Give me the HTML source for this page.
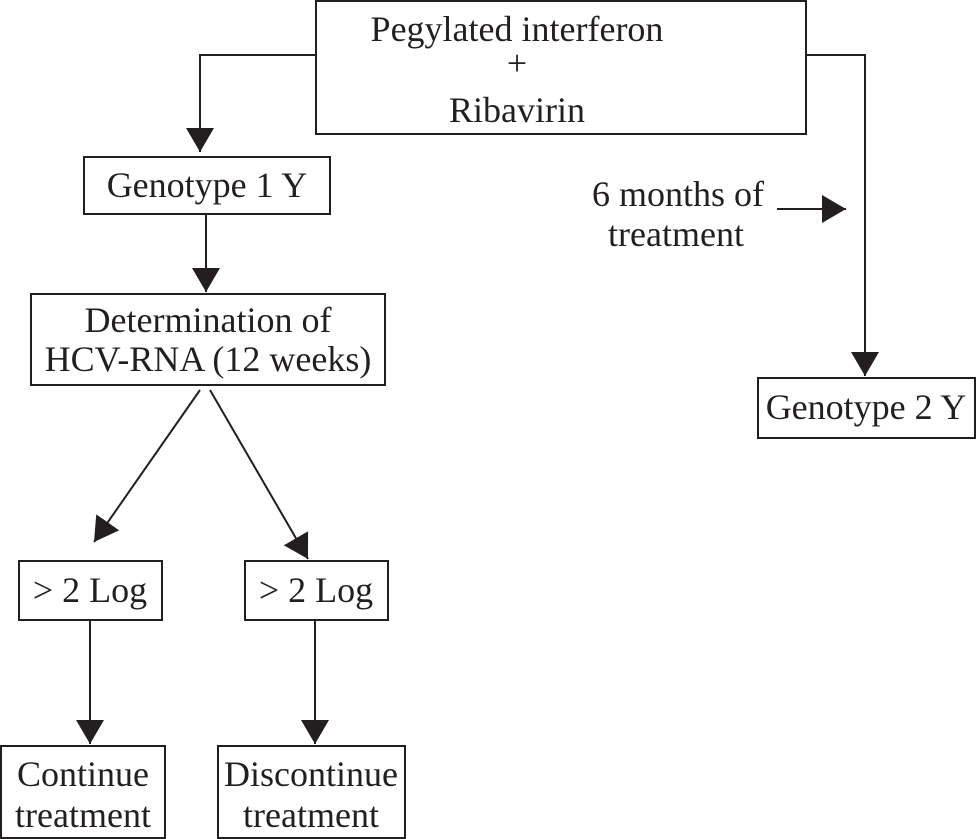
<!DOCTYPE html>
<html><head><meta charset="utf-8"><style>
html,body{margin:0;padding:0;background:#fff;}
svg{display:block;}
text{font-family:"Liberation Serif",serif;font-size:36px;fill:#231f20;}
</style></head><body>
<svg width="978" height="839" viewBox="0 0 978 839" xmlns="http://www.w3.org/2000/svg">
<defs>
<marker id="b" viewBox="0 0 24 28" markerWidth="24" markerHeight="28" refX="24" refY="14" orient="auto" markerUnits="userSpaceOnUse"><path d="M0,0 L24,14 L0,28 Z" fill="#231f20"/></marker></defs>
<g fill="none" stroke="#231f20" stroke-width="2">
<rect x="316" y="1" width="490" height="133"/>
<rect x="84" y="157" width="246" height="57"/>
<rect x="31" y="294" width="354" height="91"/>
<rect x="19" y="561" width="143" height="59"/>
<rect x="245" y="561" width="143" height="59"/>
<rect x="1" y="746" width="164" height="92"/>
<rect x="218" y="746" width="187" height="92"/>
<rect x="758" y="378" width="217" height="60"/>
<polyline points="316,55 200,55 200,152" marker-end="url(#b)"/>
<line x1="206" y1="214" x2="206" y2="292" marker-end="url(#b)"/>
<line x1="200" y1="390" x2="94" y2="542" marker-end="url(#b)"/>
<line x1="210" y1="390" x2="308" y2="559" marker-end="url(#b)"/>
<line x1="90" y1="620" x2="90" y2="744" marker-end="url(#b)"/>
<line x1="315" y1="620" x2="315" y2="744" marker-end="url(#b)"/>
<polyline points="806,55 865,55 865,376" marker-end="url(#b)"/>
<line x1="777" y1="209" x2="846" y2="209" marker-end="url(#b)"/>
</g>
<g text-anchor="middle">
<text x="517" y="41">Pegylated interferon</text>
<text x="517" y="75">+</text>
<text x="517" y="122">Ribavirin</text>
<text x="207" y="197">Genotype 1 Y</text>
<text x="208" y="332">Determination of</text>
<text x="208" y="371">HCV-RNA (12 weeks)</text>
<text x="90" y="602">&gt; 2 Log</text>
<text x="316" y="602">&gt; 2 Log</text>
<text x="83" y="786">Continue</text>
<text x="83" y="827">treatment</text>
<text x="311" y="786">Discontinue</text>
<text x="311" y="827">treatment</text>
<text x="866" y="419">Genotype 2 Y</text>
<text x="678" y="206">6 months of</text>
<text x="676" y="246">treatment</text>
</g>
</svg>
</body></html>
